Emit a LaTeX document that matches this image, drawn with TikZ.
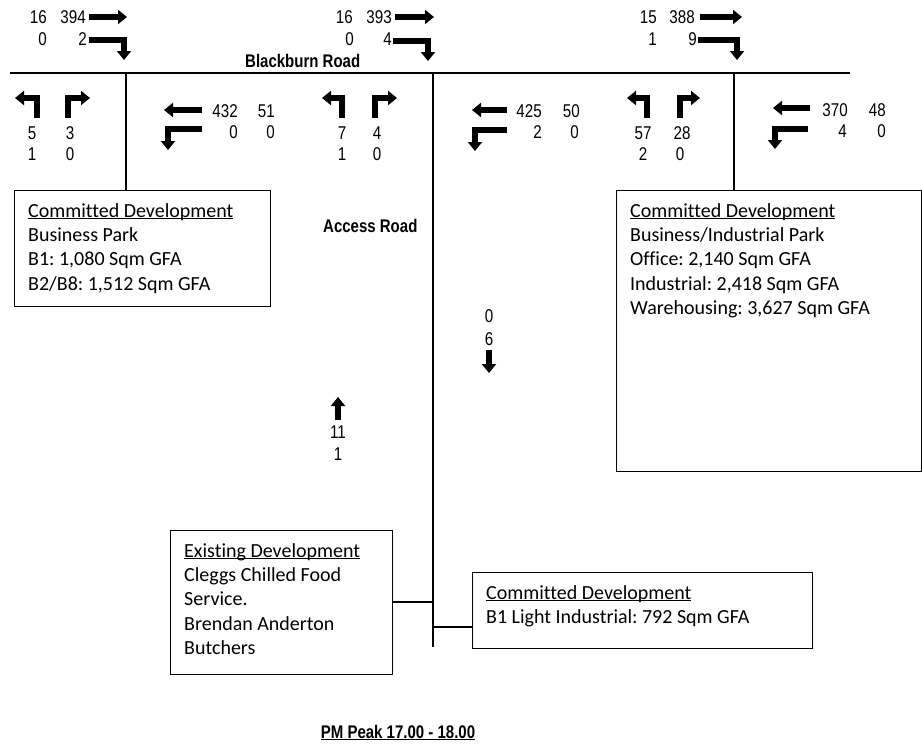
\documentclass[tikz,border=0pt]{standalone}
\usepackage{fontspec}
\setmainfont{Carlito}[Ligatures=CommonOff]
\newfontfamily\arialf{Liberation Sans}[FakeStretch=0.82]
\usetikzlibrary{arrows.meta}
\frenchspacing
\newcommand{\boxfont}{\fontsize{20}{24}\selectfont}
\newcommand{\numfont}{\arialf\fontsize{18.5}{20}\selectfont}
\newcommand{\lblfont}{\arialf\bfseries\fontsize{18.3}{20}\selectfont}
\newcommand{\myul}[2][2.3pt]{\setbox0\hbox{#2}\rlap{\rule[-#1]{\wd0}{1.2pt}}\box0}
\tikzset{
  road/.style={line width=2pt},
  mainroad/.style={line width=2.4pt},
  boxst/.style={draw, line width=1pt, inner sep=0pt, outer sep=0pt, anchor=north west},
  txt/.style={anchor=base west, inner sep=0pt, font=\boxfont},
  num/.style={anchor=base east, inner sep=0pt, font=\numfont},
  numc/.style={anchor=base, inner sep=0pt, font=\numfont},
  lbl/.style={inner sep=0pt, font=\lblfont},
  flow/.style={line width=5.5pt, line join=miter, line cap=butt, -{Triangle[width=14pt,length=9pt]}},
}
\begin{document}
\begin{tikzpicture}[x=1pt,y=-1pt]
\useasboundingbox (0,0) rectangle (922,747);
% roads
\coordinate (rw) at (10,73);
\coordinate (re) at (850,73);
\coordinate (j1) at (126,73);
\coordinate (j2) at (433,73);
\coordinate (j3) at (734,73);
\coordinate (send) at (433,647);
\coordinate (c2) at (433,627);
\draw[road] (rw) -- (re);
% boxes
\node[boxst, minimum width=256pt, minimum height=116pt] (boxA) at (14,190) {};
\node[boxst, minimum width=305pt, minimum height=281pt] (boxB) at (616,190) {};
\node[boxst, minimum width=222pt, minimum height=144pt] (boxC) at (170,530) {};
\node[boxst, minimum width=340pt, minimum height=76pt] (boxD) at (472,572) {};
\draw[road] (j1) -- (j1 |- boxA.north);
\draw[road] (j3) -- (j3 |- boxB.north);
\draw[mainroad] (j2) -- (send);
\draw[road] (boxC.east) -- (boxC.east -| send);
\draw[road] (c2) -- (c2 -| boxD.west);
% box texts
\node[txt] (a1) at (28,217) {\myul{Committed Development}};
\node[txt] (a2) at (28,241) {Business Park};
\node[txt] (a3) at (28,265.5) {B1: 1,080 Sqm GFA};
\node[txt] (a4) at (28,290) {B2/B8: 1,512 Sqm GFA};
\node[txt] (b1) at (630,217) {\myul{Committed Development}};
\node[txt] (b2) at (630,241) {Business/Industrial Park};
\node[txt] (b3) at (630,265.5) {Office: 2,140 Sqm GFA};
\node[txt] (b4) at (630,290) {Industrial: 2,418 Sqm GFA};
\node[txt] (b5) at (630,314) {Warehousing: 3,627 Sqm GFA};
\node[txt] (c1t) at (184,557) {\myul{Existing Development}};
\node[txt] (c2t) at (184,581) {Cleggs Chilled Food};
\node[txt] (c3t) at (184,605) {Service.};
\node[txt] (c4t) at (184,630) {Brendan Anderton};
\node[txt] (c5t) at (184,654) {Butchers};
\node[txt] (d1) at (486,599) {\myul{Committed Development}};
\node[txt] (d2) at (486,623) {B1 Light Industrial: 792 Sqm GFA};
% labels
\node[lbl, anchor=base west] (bb) at (245,67) {Blackburn Road};
\node[lbl, anchor=base west] (ar) at (323,232) {Access Road};
\node[lbl, anchor=base] (pm) at (398,738) {\myul[2pt]{PM Peak 17.00 - 18.00}};
% ---- top numbers
\node[num] (n11) at (47,23.5) {16};
\node[num] (n12) at (86,23.5) {394};
\node[num] (n13) at (47,45.5) {0};
\node[num] (n14) at (87,45.5) {2};
\node[num] (n21) at (353,23.5) {16};
\node[num] (n22) at (392,23.5) {393};
\node[num] (n23) at (354,45.5) {0};
\node[num] (n24) at (392,45.5) {4};
\node[num] (n31) at (657,23.5) {15};
\node[num] (n32) at (695,23.5) {388};
\node[num] (n33) at (657,45.5) {1};
\node[num] (n34) at (697,45.5) {9};
\draw[flow] (89,17) -- (127,17);
\draw[flow] (395,17) -- (434,17);
\draw[flow] (700,17) -- (742,17);
\draw[flow] (89,40) -- (124,40) -- (124,60);
\draw[flow] (393,41) -- (428,41) -- (428,61);
\draw[flow] (698,40) -- (737,40) -- (737,60);
% ---- side road exits
\draw[flow] (37,118) -- (37,98) -- (15,98);
\draw[flow] (68,118) -- (68,98) -- (90,98);
\draw[flow] (342,118) -- (342,98) -- (322,98);
\draw[flow] (375,118) -- (375,98) -- (397,98);
\draw[flow] (647,118) -- (647,98) -- (627,98);
\draw[flow] (680,118) -- (680,98) -- (700,98);
\node[numc] (s11) at (32,139) {5};
\node[numc] (s12) at (70,139) {3};
\node[numc] (s13) at (32,160) {1};
\node[numc] (s14) at (70,160) {0};
\node[numc] (s21) at (342,139) {7};
\node[numc] (s22) at (377,139) {4};
\node[numc] (s23) at (342,160) {1};
\node[numc] (s24) at (377,160) {0};
\node[numc] (s31) at (643,139) {57};
\node[numc] (s32) at (682,139) {28};
\node[numc] (s33) at (643,160) {2};
\node[numc] (s34) at (680,160) {0};
% ---- westbound
\draw[flow] (202,110) -- (164,110);
\draw[flow] (202,129) -- (168,129) -- (168,150);
\node[num] (w11) at (238,117) {432};
\node[num] (w12) at (275,117) {51};
\node[num] (w13) at (238,138) {0};
\node[num] (w14) at (275,138) {0};
\draw[flow] (507,110) -- (472,110);
\draw[flow] (507,130) -- (475,130) -- (475,151);
\node[num] (w21) at (542,117) {425};
\node[num] (w22) at (580,117) {50};
\node[num] (w23) at (542,138) {2};
\node[num] (w24) at (579,138) {0};
\draw[flow] (810,108) -- (773,108);
\draw[flow] (808,129) -- (775,129) -- (775,149);
\node[num] (w31) at (848,116) {370};
\node[num] (w32) at (886,116) {48};
\node[num] (w33) at (847,137.5) {4};
\node[num] (w34) at (886,137.5) {0};
% ---- access road flows
\node[numc] (dn1) at (489,322.5) {0};
\node[numc] (dn2) at (489,345.5) {6};
\draw[flow] (489,350) -- (489,373);
\draw[flow] (338,420) -- (338,397);
\node[numc] (up1) at (338,438.5) {11};
\node[numc] (up2) at (338,460.5) {1};
\end{tikzpicture}
\end{document}
